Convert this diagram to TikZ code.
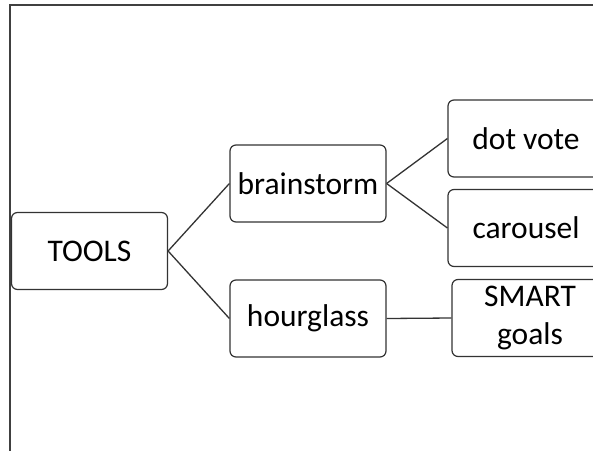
\documentclass[tikz,border=0pt]{standalone}
\usepackage{fontspec}
\setmainfont{Carlito}
\begin{document}
\begin{tikzpicture}[x=1pt,y=-1pt,
  box/.style={draw=black!80, line width=1.2pt, rounded corners=6pt, fill=white,
    minimum width=156pt, minimum height=77pt, inner sep=0pt, align=center,
    font=\fontsize{31.5}{38}\selectfont},
  link/.style={draw=black!80, line width=1.3pt}]
\useasboundingbox (0,0) rectangle (593,450);
\clip (0,0) rectangle (593,450);
\fill[white] (0,0) rectangle (593,450);
% outer frame, only its top and left edges fall inside the page
\draw[black!75, line width=2pt] (10,460) -- (10,5) -- (603,5);
% nodes
\node[box] (tools) at (89.5,251) {TOOLS};
\node[box] (brain) at (308,183.5) {brainstorm};
\node[box] (hour)  at (308,318.5) {hourglass};
\node[box] (dot)   at (526,138.5) {dot vote};
\node[box] (car)   at (526,228) {carousel};
\node[box] (smart) at (530,318) {SMART\\goals};
% connectors
\draw[link] (tools.east) -- (brain.west);
\draw[link] (tools.east) -- (hour.west);
\draw[link] (brain.east) -- (dot.west);
\draw[link] (brain.east) -- (car.west);
\draw[link] (hour.east) -- (smart.west);
\end{tikzpicture}
\end{document}
